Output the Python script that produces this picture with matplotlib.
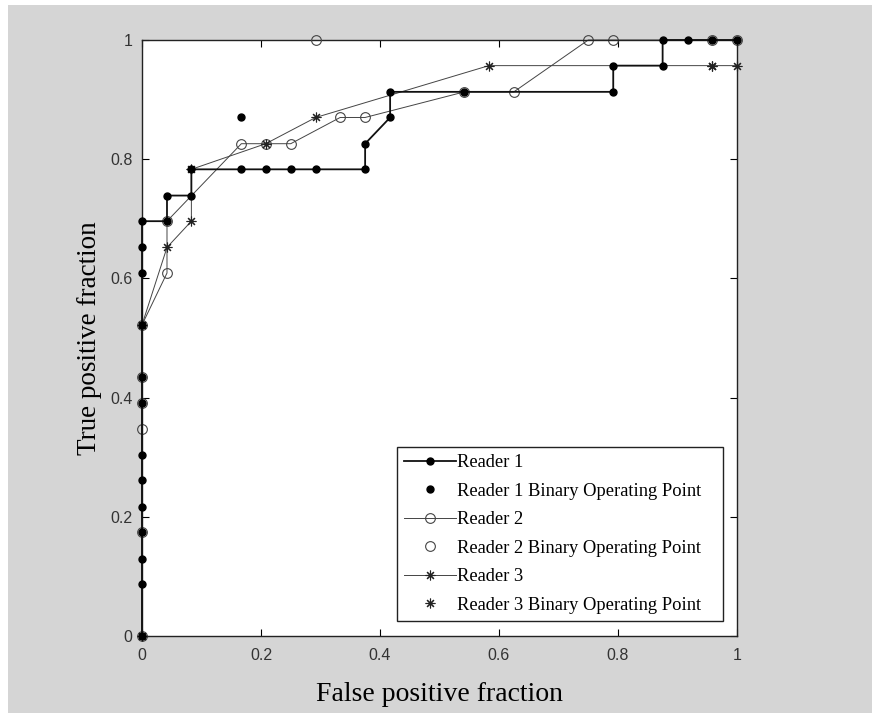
import matplotlib
matplotlib.use("Agg")
import matplotlib.pyplot as plt
from matplotlib.patches import Rectangle

# ---- data ----
r1_fpr = [0, 0, 0, 0, 0, 0, 0, 0, 0, 0, 0, 0, 0,
          0.042, 0.042, 0.083, 0.083, 0.167, 0.208, 0.250, 0.292, 0.375, 0.375,
          0.417, 0.417, 0.542, 0.792, 0.792, 0.875, 0.875, 0.917, 0.958, 1.0]
r1_tpr = [0, 0.087, 0.130, 0.174, 0.217, 0.261, 0.304, 0.391, 0.435, 0.522, 0.609, 0.652, 0.696,
          0.696, 0.739, 0.739, 0.783, 0.783, 0.783, 0.783, 0.783, 0.783, 0.826,
          0.870, 0.913, 0.913, 0.913, 0.957, 0.957, 1.0, 1.0, 1.0, 1.0]
r1_bin_fpr = [0.167]
r1_bin_tpr = [0.870]

r2_fpr = [0, 0, 0, 0, 0, 0, 0.042, 0.042, 0.167, 0.208, 0.250, 0.333, 0.375,
          0.542, 0.625, 0.750, 0.792, 0.958, 1.0]
r2_tpr = [0, 0.174, 0.348, 0.391, 0.435, 0.522, 0.609, 0.696, 0.826, 0.826, 0.826, 0.870, 0.870,
          0.913, 0.913, 1.0, 1.0, 1.0, 1.0]
r2_bin_fpr = [0.292]
r2_bin_tpr = [1.0]

r3_fpr = [0, 0, 0.042, 0.083, 0.083, 0.208, 0.292, 0.583, 0.958, 1.0]
r3_tpr = [0, 0.522, 0.652, 0.696, 0.783, 0.826, 0.870, 0.957, 0.957, 0.957]
r3_bin_fpr = [0.958]
r3_bin_tpr = [0.957]

ticks = [0, 0.2, 0.4, 0.6, 0.8, 1]
tick_labels = ["0", "0.2", "0.4", "0.6", "0.8", "1"]

# ---- figure ----
W, H = 873, 719
fig = plt.figure(figsize=(W / 100, H / 100), dpi=100)
fig.patch.set_facecolor("white")
fig.patches.append(Rectangle((8 / W, 6 / H), 864 / W, 708 / H, transform=fig.transFigure,
                             facecolor="#d5d5d5", edgecolor="none", zorder=-10))

ax = fig.add_axes([142 / W, 1 - 636 / H, 595 / W, 596 / H])
ax.set_facecolor("white")

star = (8, 2, 0)

ax.plot(r2_fpr, r2_tpr, color="#444444", lw=0.7, marker="o", ms=7,
        mfc="none", mec="#444444", mew=0.8, label="Reader 2", zorder=2, clip_on=False)
ax.plot(r3_fpr, r3_tpr, color="#444444", lw=0.7, marker=star, ms=7,
        mec="#222222", mew=0.8, label="Reader 3", zorder=3, clip_on=False)
ax.plot(r1_fpr, r1_tpr, color="#111111", lw=1.3, marker="o", ms=5,
        mfc="#000000", mec="#000000", label="Reader 1", zorder=4, clip_on=False)

ax.plot(r1_bin_fpr, r1_bin_tpr, ls="none", marker="o", ms=5, mfc="#000000",
        mec="#000000", label="Reader 1 Binary Operating Point", zorder=5, clip_on=False)
ax.plot(r2_bin_fpr, r2_bin_tpr, ls="none", marker="o", ms=7, mfc="none",
        mec="#444444", mew=0.8, label="Reader 2 Binary Operating Point", zorder=5,
        clip_on=False)
ax.plot(r3_bin_fpr, r3_bin_tpr, ls="none", marker=star, ms=7, mec="#222222",
        mew=0.8, label="Reader 3 Binary Operating Point", zorder=5, clip_on=False)

ax.set_xlim(0, 1)
ax.set_ylim(0, 1)
ax.set_xticks(ticks)
ax.set_xticklabels(tick_labels)
ax.set_yticks(ticks)
ax.set_yticklabels(tick_labels)
ax.tick_params(direction="in", length=5, width=0.8, top=True, right=True,
               labelsize=11.5, labelcolor="#333333")
ax.tick_params(axis="x", pad=9)
ax.tick_params(axis="y", pad=7)
for lab in ax.get_xticklabels() + ax.get_yticklabels():
    lab.set_family("Liberation Sans")
for s in ax.spines.values():
    s.set_linewidth(1.0)
    s.set_color("#222222")

ax.set_xlabel("False positive fraction", family="Liberation Serif", fontsize=20, labelpad=13.5)
ax.set_ylabel("True positive fraction", family="Liberation Serif", fontsize=19.5, labelpad=6)

handles, labels = ax.get_legend_handles_labels()
order = ["Reader 1", "Reader 1 Binary Operating Point", "Reader 2",
         "Reader 2 Binary Operating Point", "Reader 3", "Reader 3 Binary Operating Point"]
hmap = dict(zip(labels, handles))
leg = ax.legend([hmap[k] for k in order], order, loc="lower left", mode="expand",
                bbox_to_anchor=(0.4286, 0.0252, 0.5479, 0.3),
                prop={"family": "Liberation Serif", "size": 13.3},
                frameon=True, fancybox=False, shadow=False, framealpha=1,
                edgecolor="#222222", handlelength=2.8, handletextpad=0.05,
                labelspacing=0.62, borderpad=0.4, borderaxespad=0)
leg.get_frame().set_linewidth(1.0)

fig.savefig("out.png", dpi=100)
